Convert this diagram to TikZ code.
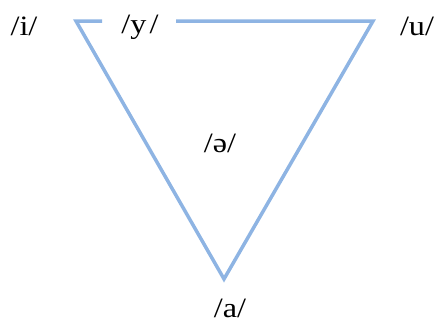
\documentclass[tikz,border=0pt]{standalone}
\usepackage{fontspec}
\setmainfont{Liberation Serif}
\definecolor{vline}{RGB}{142,180,227}
\begin{document}
\begin{tikzpicture}[x=1pt,y=-1pt,
  edge/.style={draw=vline,line width=3.5pt,line join=miter},
  lbl/.style={inner sep=0pt,font=\fontsize{28}{32}\selectfont}]
\useasboundingbox (0,0) rectangle (438,324);
\coordinate (tl) at (76,21);
\coordinate (gl) at (102,21);
\coordinate (gr) at (176,21);
\coordinate (tr) at (373,21);
\coordinate (bt) at (224,279);
\draw[edge] (gl) -- (tl) -- (bt) -- (tr) -- (gr);
\node[lbl] (i) at (24,26) {\scalebox{1.15}[1]{/i/}};
\node[lbl] (y) at (140,27.5) {\scalebox{1.15}[1]{/y\hspace{0.1em}/}};
\node[lbl] (u) at (417,26.5) {\scalebox{1.15}[1]{/u/}};
\node[lbl] (schwa) at (220,143) {\scalebox{1.15}[1]{/ə/}};
\node[lbl] (a) at (230,308) {\scalebox{1.15}[1]{/a/}};
\end{tikzpicture}
\end{document}
